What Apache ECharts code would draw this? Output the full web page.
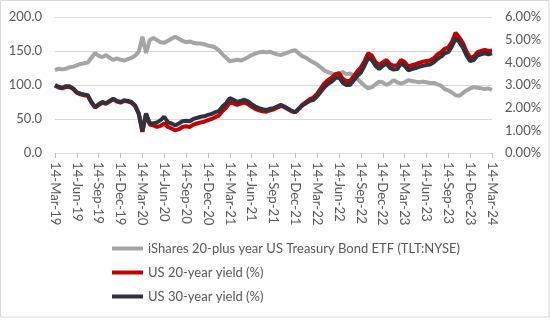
<!DOCTYPE html>
<html>
<head>
<meta charset="utf-8">
<script src="https://cdn.jsdelivr.net/npm/echarts@6/dist/echarts.min.js"></script>
<style>html,body{margin:0;padding:0;background:#fff}#c{width:550px;height:330px}</style>
</head>
<body>
<div id="c"></div>
<script>
// Tick labels (quarterly, every 3 months from 14-Mar-19)
var tickLabels = ["14-Mar-19","14-Jun-19","14-Sep-19","14-Dec-19","14-Mar-20","14-Jun-20","14-Sep-20","14-Dec-20","14-Mar-21","14-Jun-21","14-Sep-21","14-Dec-21","14-Mar-22","14-Jun-22","14-Sep-22","14-Dec-22","14-Mar-23","14-Jun-23","14-Sep-23","14-Dec-23","14-Mar-24"];
var seriesNames = ["iShares 20-plus year US Treasury Bond ETF (TLT:NYSE)","US 20-year yield (%)","US 30-year yield (%)"];
// Half-monthly samples from 14-Mar-19 to 14-Mar-24 (121 points)
var tlt = [122,124,123,124,126,127,129,131,132,133,140,147,143,141,144,140,137,139,137,136,138,140,143,149,171,147,166,169,166,163,162,165,168,171,168,165,163,164,162,161,161,160,158,157,155,151,145,140,135,136,137,136,138,141,144,146,148,149,148,149,147,145,144,146,148,150,151,146,142,140,136,133,130,126,121,119,117,115,117,119,116,117,114,109,104,99,95,97,101,105,104,100,103,107,104,102,104,107,106,105,104,105,104,103,103,101,99,94,92,89,85,84,88,92,95,97,96,95,94,95,93];
var y20 = [2.97,2.89,2.85,2.92,2.91,2.82,2.65,2.59,2.55,2.52,2.22,2.00,2.12,2.22,2.17,2.27,2.37,2.27,2.22,2.30,2.27,2.22,2.07,1.72,0.93,1.72,1.26,1.22,1.15,1.20,1.30,1.15,1.08,1.00,1.05,1.15,1.18,1.15,1.25,1.30,1.35,1.38,1.45,1.50,1.58,1.65,1.85,2.00,2.22,2.20,2.12,2.18,2.22,2.16,2.04,1.95,1.88,1.84,1.82,1.88,1.92,2.00,2.08,2.02,1.93,1.84,1.80,1.97,2.14,2.26,2.38,2.45,2.62,2.85,3.08,3.22,3.32,3.48,3.52,3.28,3.18,3.18,3.38,3.60,3.78,4.05,4.40,4.30,4.02,3.88,4.00,4.10,3.92,3.85,3.87,4.10,4.02,3.82,3.87,3.92,3.98,4.03,4.06,4.08,4.18,4.35,4.45,4.60,4.65,4.90,5.30,5.10,4.85,4.48,4.20,4.25,4.45,4.50,4.55,4.50,4.52];
var y30 = [3.00,2.92,2.88,2.95,2.94,2.85,2.68,2.62,2.58,2.55,2.25,2.03,2.15,2.25,2.20,2.30,2.40,2.30,2.25,2.33,2.30,2.25,2.10,1.75,0.95,1.75,1.32,1.30,1.35,1.45,1.60,1.35,1.30,1.22,1.30,1.40,1.42,1.40,1.50,1.55,1.60,1.62,1.68,1.72,1.80,1.85,2.05,2.20,2.42,2.35,2.25,2.30,2.35,2.28,2.15,2.05,1.98,1.93,1.90,1.95,1.98,2.05,2.12,2.05,1.95,1.85,1.80,1.95,2.10,2.20,2.30,2.35,2.50,2.70,2.90,3.05,3.15,3.30,3.35,3.10,3.00,3.00,3.20,3.40,3.55,3.85,4.20,4.10,3.85,3.70,3.85,3.95,3.75,3.68,3.70,3.95,3.85,3.65,3.70,3.75,3.80,3.85,3.88,3.90,4.00,4.15,4.25,4.40,4.45,4.70,5.05,4.90,4.65,4.30,4.05,4.10,4.30,4.35,4.40,4.35,4.40];

function pairs(arr){ return arr.map(function(v,i){ return [i*0.5, v]; }); }

var txt = '#595959';
var font = 'Lato, "Open Sans", sans-serif';
var chart = echarts.init(document.getElementById('c'), null, {renderer:'canvas'});
chart.setOption({
  animation:false,
  backgroundColor:'#fff',
  graphic:[{type:'rect', shape:{x:0.5,y:0.5,width:548.5,height:316.5}, style:{fill:'none', stroke:'#D9D9D9', lineWidth:1}, silent:true, z:-1}],
  grid:{left:55, right:58, top:17, bottom:177, containLabel:false},
  legend:{
    orient:'vertical', left:107, top:237, itemWidth:31, itemHeight:4, itemGap:11,
    icon:'rect',
    textStyle:{color:txt, fontSize:13, fontFamily:font},
    data:seriesNames
  },
  xAxis:{
    type:'value', min:0, max:60, interval:3,
    axisLine:{show:true, lineStyle:{color:'#D9D9D9'}},
    axisTick:{show:true, length:5, lineStyle:{color:'#BFBFBF'}},
    splitLine:{show:false},
    axisLabel:{rotate:-90, margin:9, color:txt, fontSize:13.2, fontFamily:font,
      formatter:function(v){ return tickLabels[Math.round(v/3)]; }}
  },
  yAxis:[{
    type:'value', min:0, max:200, interval:50, position:'left',
    axisLine:{show:false}, axisTick:{show:false},
    splitLine:{show:true, lineStyle:{color:'#D9D9D9'}},
    axisLabel:{margin:13, color:txt, fontSize:13, fontFamily:font, formatter:function(v){return v.toFixed(1);}}
  },{
    type:'value', min:0, max:6, interval:1, position:'right',
    axisLine:{show:false}, axisTick:{show:false}, splitLine:{show:false},
    axisLabel:{margin:13, color:txt, fontSize:13, fontFamily:font, formatter:function(v){return v.toFixed(2)+'%';}}
  }],
  series:[
    {name:seriesNames[0], type:'line', yAxisIndex:0, data:pairs(tlt), showSymbol:false, symbol:'none',
      lineStyle:{color:'#A5A5A5', width:4}, itemStyle:{color:'#A5A5A5'}, z:2},
    {name:seriesNames[1], type:'line', yAxisIndex:1, data:pairs(y20), showSymbol:false, symbol:'none',
      lineStyle:{color:'#C00000', width:4}, itemStyle:{color:'#C00000'}, z:3},
    {name:seriesNames[2], type:'line', yAxisIndex:1, data:pairs(y30), showSymbol:false, symbol:'none',
      lineStyle:{color:'#31323D', width:4}, itemStyle:{color:'#31323D'}, z:4}
  ]
});
</script>
</body>
</html>
